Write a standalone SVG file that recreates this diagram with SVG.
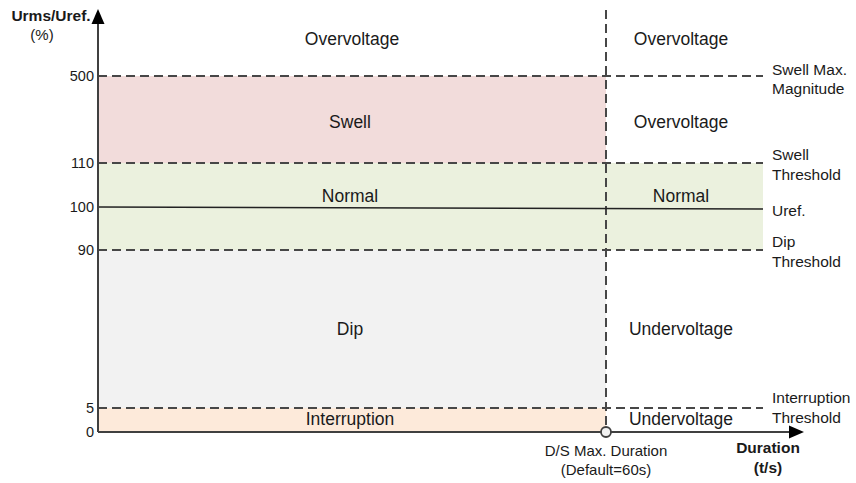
<svg xmlns="http://www.w3.org/2000/svg" width="856" height="483" viewBox="0 0 856 483">
<style>
.dash{stroke:#474747;stroke-width:2;stroke-dasharray:9 5;fill:none}
.axis{stroke:#404040;stroke-width:2;fill:none}
.reg{font-family:"Liberation Sans",Arial,sans-serif;font-size:17.5px;fill:#1a1a1a;text-anchor:middle}
.side{font-family:"Liberation Sans",Arial,sans-serif;font-size:15.5px;fill:#1a1a1a}
.tick{font-family:"Liberation Sans",Arial,sans-serif;font-size:14.5px;fill:#1a1a1a;text-anchor:end}
.bold{font-family:"Liberation Sans",Arial,sans-serif;font-size:15.5px;font-weight:bold;fill:#1a1a1a;text-anchor:middle}
.cap{font-family:"Liberation Sans",Arial,sans-serif;font-size:15px;fill:#1a1a1a;text-anchor:middle}
</style>
<rect width="856" height="483" fill="#fff"/>
<g id="regions">
<rect x="98" y="76" width="508" height="87" fill="#f2dcdb"/>
<rect x="98" y="163" width="665" height="87" fill="#ebf1de"/>
<rect x="98" y="250" width="508" height="158" fill="#f2f2f2"/>
<rect x="98" y="408" width="508" height="24" fill="#fdeada"/>
</g>
<g id="connectors">
<line class="dash" x1="98" y1="76" x2="763" y2="76"/>
<line class="dash" x1="98" y1="163" x2="763" y2="163"/>
<line class="dash" x1="98" y1="250" x2="763" y2="250"/>
<line class="dash" x1="98" y1="408" x2="763" y2="408"/>
<line class="dash" x1="606" y1="10" x2="606" y2="427"/>
<line x1="98" y1="207" x2="763" y2="209" stroke="#222" stroke-width="1.5"/>
<line class="axis" x1="98" y1="22" x2="98" y2="432"/>
<line class="axis" x1="98" y1="432" x2="791" y2="432"/>
<polygon points="98,9 91.5,24 104.5,24" fill="#000"/>
<polygon points="804,432 789,425.5 789,438.5" fill="#000"/>
<circle cx="606" cy="432" r="5" fill="#f2f2f2" stroke="#404040" stroke-width="1.8"/>
</g>
<g id="ylabel">
<text class="bold" x="51" y="21">Urms/Uref.</text>
<text class="cap" x="42" y="40">(%)</text>
</g>
<g id="ticks">
<text class="tick" x="94" y="81">500</text>
<text class="tick" x="94" y="168">110</text>
<text class="tick" x="94" y="212">100</text>
<text class="tick" x="94" y="255">90</text>
<text class="tick" x="94" y="413">5</text>
<text class="tick" x="94" y="437">0</text>
</g>
<g id="left-labels">
<text class="reg" x="352" y="45">Overvoltage</text>
<text class="reg" x="350" y="128">Swell</text>
<text class="reg" x="350" y="202">Normal</text>
<text class="reg" x="350" y="335">Dip</text>
<text class="reg" x="350" y="425">Interruption</text>
</g>
<g id="right-labels">
<text class="reg" x="681" y="45">Overvoltage</text>
<text class="reg" x="681" y="128">Overvoltage</text>
<text class="reg" x="681" y="202">Normal</text>
<text class="reg" x="681" y="335">Undervoltage</text>
<text class="reg" x="681" y="425">Undervoltage</text>
</g>
<g id="side-labels">
<text class="side" x="772" y="75">Swell Max.</text>
<text class="side" x="772" y="94">Magnitude</text>
<text class="side" x="772" y="160">Swell</text>
<text class="side" x="772" y="180">Threshold</text>
<text class="side" x="772" y="216">Uref.</text>
<text class="side" x="772" y="247">Dip</text>
<text class="side" x="772" y="267">Threshold</text>
<text class="side" x="772" y="403">Interruption</text>
<text class="side" x="772" y="423">Threshold</text>
</g>
<g id="xlabel">
<text class="cap" x="606" y="456">D/S Max. Duration</text>
<text class="cap" x="606" y="475">(Default=60s)</text>
<text class="bold" x="768" y="453">Duration</text>
<text class="bold" x="768" y="473">(t/s)</text>
</g>
</svg>
